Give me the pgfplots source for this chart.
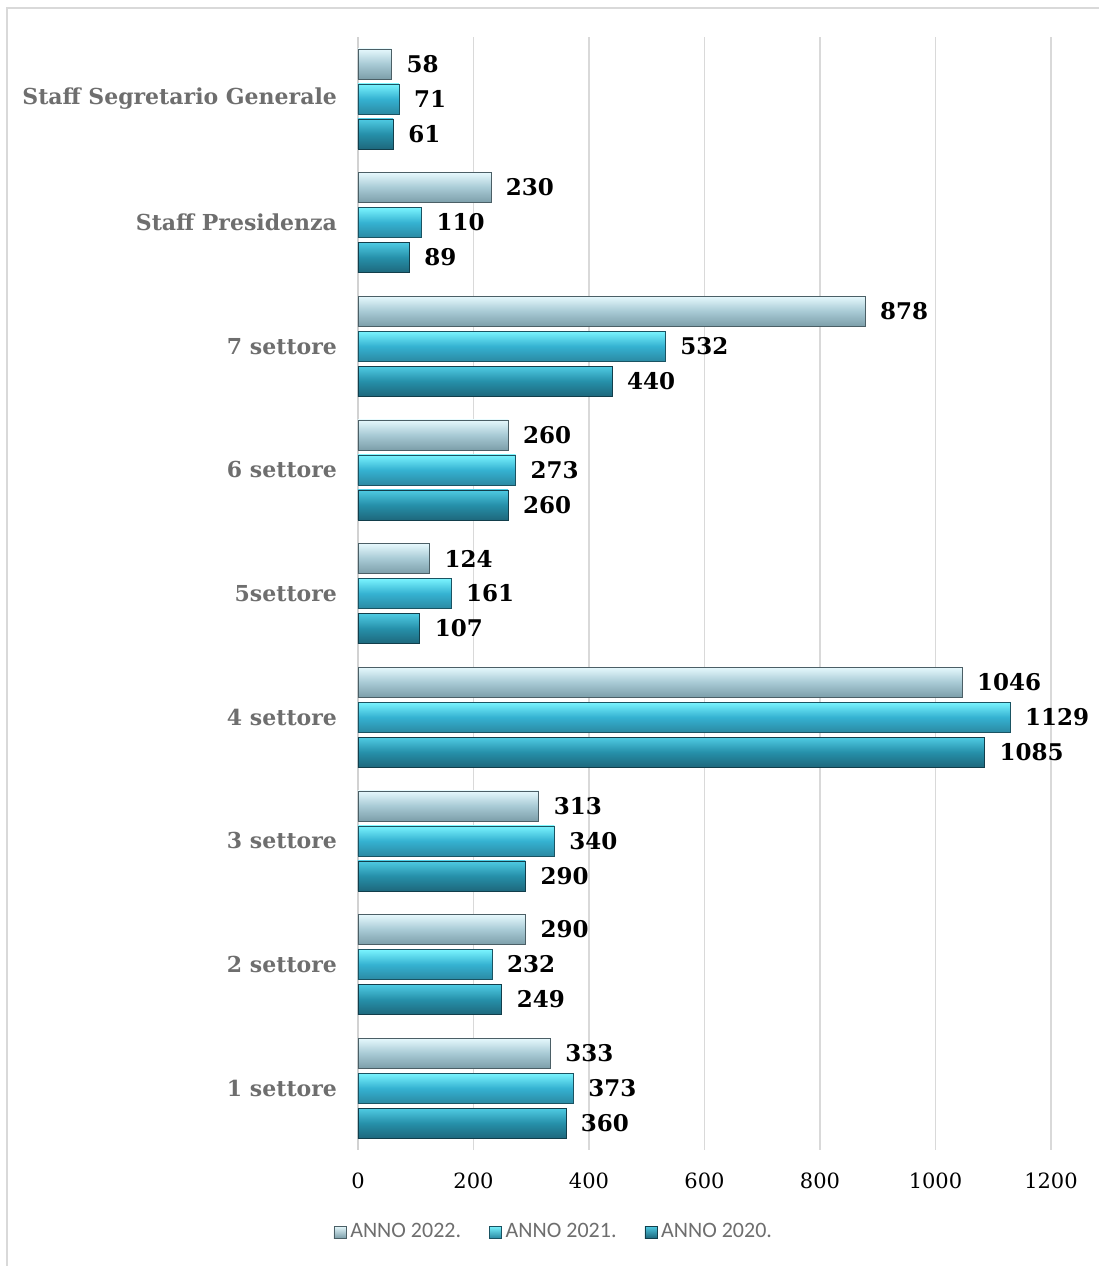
\documentclass[border=0pt]{standalone}
\usepackage{pgfplots}
\usepackage{pgfplotstable}
\pgfplotsset{compat=1.18}
\usepackage{fontspec}
\setmainfont{DejaVu Serif}
\newfontfamily\legfont{Carlito}
\definecolor{aT}{HTML}{E6F9FD}
\definecolor{aM}{HTML}{A8CAD5}
\definecolor{aB}{HTML}{7D9FAA}
\definecolor{bT}{HTML}{7AF4FF}
\definecolor{bM}{HTML}{35B2D2}
\definecolor{bB}{HTML}{2B8AA3}
\definecolor{cT}{HTML}{4FCBE3}
\definecolor{cM}{HTML}{2690AA}
\definecolor{cB}{HTML}{1E687D}
\definecolor{lbl}{HTML}{6E6E6E}
\pgfplotstableread{
cat a2022 a2021 a2020
0 333 373 360
1 290 232 249
2 313 340 290
3 1046 1129 1085
4 124 161 107
5 260 273 260
6 878 532 440
7 230 110 89
8 58 71 61
}\data
\begin{document}
\begin{tikzpicture}[x=1pt,y=1pt]
\path[use as bounding box] (0,0) rectangle (549.5,633);
\draw[color=gray!30, line width=1pt] (3.5,0) -- (3.5,629) -- (549.5,629);
\begin{axis}[
  at={(179pt,58pt)}, anchor=south west,
  scale only axis, width=346.5pt, height=556.5pt,
  xbar, bar width=15pt,
  xmin=0, xmax=1200, ymin=-0.5, ymax=8.5,
  xtick={0,200,...,1200},
  ytick={0,...,8},
  yticklabels={1 settore,2 settore,3 settore,4 settore,5settore,6 settore,7 settore,Staff Presidenza,Staff Segretario Generale},
  major tick length=0pt,
  axis x line*=bottom, axis y line*=left,
  x axis line style={draw=none},
  y axis line style={draw=gray!35, line width=0.8pt, -},
  xmajorgrids, grid style={draw=gray!30, line width=0.6pt},
  /pgf/number format/assume math mode=true,
  /pgf/number format/1000 sep={},
  x tick label style={font=\fontsize{10.5}{12}\selectfont, yshift=-8pt},
  y tick label style={font=\bfseries\fontsize{11}{13}\selectfont, text=lbl, xshift=-7pt},
  nodes near coords align={horizontal},
  every node near coord/.append style={font=\bfseries\fontsize{11.5}{13}\selectfont, text=black, xshift=4pt},
  legend style={at={(0.284,-0.0737)}, anchor=center, draw=none, legend columns=3,
    font=\legfont\fontsize{11}{13}\selectfont, text=lbl,
    /tikz/every even column/.append style={column sep=12pt}},
]
% 2022
\pgfplotsinvokeforeach{{-0.2:0.2},{0.8:1.2},{1.8:2.2},{2.8:3.2},{3.8:4.2},{4.8:5.2},{5.8:6.2},{6.8:7.2},{7.8:8.2}}{
\addplot[forget plot, restrict y to domain=#1, bar shift=17.5pt, draw=aB!60!black, line width=0.3pt, top color=aT, bottom color=aB, middle color=aM]
  table[x=a2022, y=cat] {\data};
}
\addplot[bar shift=17.5pt, draw=none, fill=none, nodes near coords,
  legend image code/.code={\path[draw=aB!60!black, line width=0.3pt, top color=aT, bottom color=aB] (0pt,-3pt) rectangle (6pt,3pt);}]
  table[x=a2022, y=cat] {\data};
\addlegendentry{ANNO 2022.}
% 2021
\pgfplotsinvokeforeach{{-0.2:0.2},{0.8:1.2},{1.8:2.2},{2.8:3.2},{3.8:4.2},{4.8:5.2},{5.8:6.2},{6.8:7.2},{7.8:8.2}}{
\addplot[forget plot, restrict y to domain=#1, bar shift=0pt, draw=bB!60!black, line width=0.3pt, top color=bT, bottom color=bB, middle color=bM]
  table[x=a2021, y=cat] {\data};
}
\addplot[bar shift=0pt, draw=none, fill=none, nodes near coords,
  legend image code/.code={\path[draw=bB!60!black, line width=0.3pt, top color=bT, bottom color=bB] (0pt,-3pt) rectangle (6pt,3pt);}]
  table[x=a2021, y=cat] {\data};
\addlegendentry{ANNO 2021.}
% 2020
\pgfplotsinvokeforeach{{-0.2:0.2},{0.8:1.2},{1.8:2.2},{2.8:3.2},{3.8:4.2},{4.8:5.2},{5.8:6.2},{6.8:7.2},{7.8:8.2}}{
\addplot[forget plot, restrict y to domain=#1, bar shift=-17.5pt, draw=cB!60!black, line width=0.3pt, top color=cT, bottom color=cB, middle color=cM]
  table[x=a2020, y=cat] {\data};
}
\addplot[bar shift=-17.5pt, draw=none, fill=none, nodes near coords,
  legend image code/.code={\path[draw=cB!60!black, line width=0.3pt, top color=cT, bottom color=cB] (0pt,-3pt) rectangle (6pt,3pt);}]
  table[x=a2020, y=cat] {\data};
\addlegendentry{ANNO 2020.}
\end{axis}
\end{tikzpicture}
\end{document}
